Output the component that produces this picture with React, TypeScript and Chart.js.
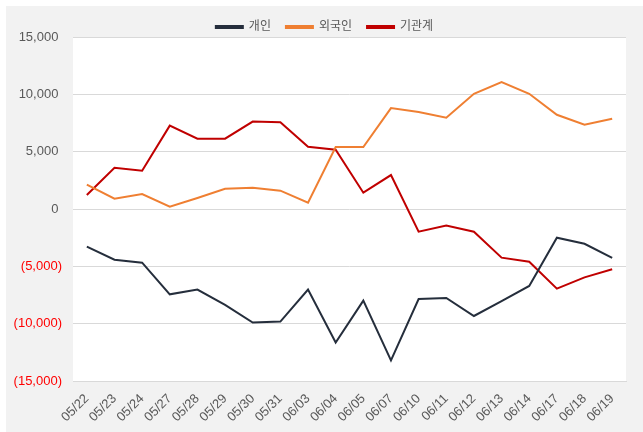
import React, { useEffect, useRef } from "react";
import { Chart, registerables } from "chart.js";

Chart.register(...registerables);

const categories = ["05/22","05/23","05/24","05/27","05/28","05/29","05/30","05/31","06/03","06/04","06/05","06/07","06/10","06/11","06/12","06/13","06/14","06/17","06/18","06/19"];
const individual = [-3280,-4420,-4680,-7440,-7030,-8370,-9900,-9820,-7030,-11650,-7990,-13200,-7850,-7760,-9330,-8030,-6710,-2500,-3030,-4270];
const foreign = [2120,900,1310,200,960,1770,1860,1600,550,5400,5400,8800,8460,7960,10050,11070,10050,8220,7350,7870];
const institution = [1220,3600,3340,7270,6130,6130,7620,7560,5430,5170,1420,2960,-1980,-1450,-1980,-4240,-4600,-6950,-5960,-5260];
const seriesNames = ["개인", "외국인", "기관계"];
const yTicks = [-15000, -10000, -5000, 0, 5000, 10000, 15000];

const FONT = "'Liberation Sans', 'Noto Sans CJK KR', sans-serif";

const plotBg = {
  id: "plotBg",
  beforeInit(chart: any) {
    const lg = chart.legend;
    if (lg) {
      const fit = lg.fit;
      lg.fit = function () {
        fit.call(this);
        this.height = 31;
      };
    }
  },
  beforeDraw(chart: any) {
    const { ctx, chartArea } = chart;
    ctx.save();
    ctx.fillStyle = "#ffffff";
    ctx.fillRect(chartArea.left, chartArea.top, chartArea.right - chartArea.left, chartArea.bottom - chartArea.top);
    ctx.restore();
  },
};

export default function App() {
  const ref = useRef<HTMLCanvasElement>(null);
  useEffect(() => {
    if (!ref.current) return;
    const chart = new Chart(ref.current, {
      type: "line",
      data: {
        labels: categories,
        datasets: [
          { label: seriesNames[0], data: individual, borderColor: "#252e3c", backgroundColor: "#252e3c", borderWidth: 2, pointRadius: 0, tension: 0 },
          { label: seriesNames[1], data: foreign, borderColor: "#ef7f32", backgroundColor: "#ef7f32", borderWidth: 2, pointRadius: 0, tension: 0 },
          { label: seriesNames[2], data: institution, borderColor: "#c00000", backgroundColor: "#c00000", borderWidth: 2, pointRadius: 0, tension: 0 },
        ],
      },
      options: {
        animation: false,
        responsive: false,
        maintainAspectRatio: false,
        layout: { padding: 0 },
        plugins: {
          legend: {
            position: "top",
            labels: {
              boxWidth: 27,
              boxHeight: 2,
              padding: 15,
              color: "#595959",
              font: { family: FONT, size: 12 },
            },
          },
          tooltip: { enabled: false },
        },
        scales: {
          x: {
            offset: true,
            grid: { display: false },
            border: { display: true, color: "#d9d9d9" },
            afterFit: (s: any) => { s.height = 51; },
            ticks: {
              color: "#595959",
              font: { family: FONT, size: 13 },
              maxRotation: 45,
              minRotation: 45,
              autoSkip: false,
              padding: 2,
            },
          },
          y: {
            min: -15000,
            max: 15000,
            afterBuildTicks: (axis: any) => {
              axis.ticks = yTicks.map((v) => ({ value: v }));
            },
            afterFit: (s: any) => { s.width = 67; },
            grid: { color: "#d9d9d9", drawTicks: false },
            border: { display: false },
            ticks: {
              padding: 11,
              font: { family: FONT, size: 13 },
              color: (c: any) => (c.tick && c.tick.value < 0 ? "#ff0000" : "#595959"),
              callback: (v: any) => {
                const n = Number(v);
                const s = Math.abs(n).toLocaleString("en-US");
                return n < 0 ? "(" + s + ")" : s + " ";
              },
            },
          },
          yR: {
            position: "right",
            display: true,
            grid: { display: false },
            border: { display: false },
            ticks: { display: false },
            afterFit: (s: any) => { s.width = 17; },
          },
        },
      },
      plugins: [plotBg],
    });
    return () => chart.destroy();
  }, []);
  return (
    <div style={{ position: "fixed", left: 6, top: 6, width: 637, height: 426, background: "#f2f2f2" }}>
      <canvas ref={ref} width={637} height={426} style={{ display: "block" }} />
    </div>
  );
}
